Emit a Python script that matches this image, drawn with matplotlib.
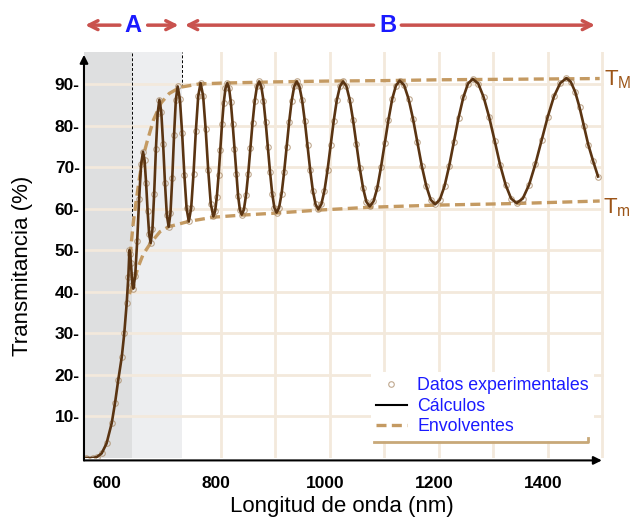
import matplotlib.pyplot as plt
from matplotlib.transforms import ScaledTranslation

plt.rcParams['font.family'] = ['Liberation Sans', 'DejaVu Sans']

# espectro de transmision (nm, %)
wl_nm = [553, 565, 572, 581, 590, 599.5, 605.5, 611.5, 618, 622.5, 627, 630,
         632, 633.4, 634.8, 636.2, 637.6,
         639, 642.6, 646.2, 649.8, 653.4,
         657, 659.8, 662.6, 665.4, 668.2,
         671, 674.2, 677.4, 680.6, 683.8,
         687, 690.4, 693.8, 697.2, 700.6,
         704, 707.3, 710.6, 713.9, 717.2,
         720.5, 724.6, 728.7, 732.8, 736.9,
         741, 745.3, 749.6, 753.9, 758.2,
         762.5, 767.2, 771.9, 776.6, 781.3,
         786, 789.2, 792.4, 795.6, 798.8, 801.9, 805.1, 808.3,
         811.5, 814.8, 818.1, 821.4, 824.8, 828.1, 831.4, 834.7,
         838, 842, 846, 850, 854, 858, 862, 866,
         870, 874, 878, 882, 886, 890, 894, 898,
         902, 906.6, 911.3, 915.9, 920.5, 925.1, 929.8, 934.4,
         939, 943.9, 948.9, 953.8, 958.8, 963.7, 968.6, 973.6,
         978.5, 984.2, 989.9, 995.6, 1001.3, 1006.9, 1012.6, 1018.3,
         1024, 1030.1, 1036.3, 1042.4, 1048.5, 1054.6, 1060.8, 1066.9,
         1073, 1079.9, 1086.8, 1093.6, 1100.5, 1107.4, 1114.3, 1121.1,
         1128, 1136.1, 1144.3, 1152.4, 1160.5, 1168.6, 1176.8, 1184.9,
         1193, 1201.6, 1210.3, 1218.9, 1227.5, 1236.1, 1244.8, 1253.4,
         1262, 1272.1, 1282.1, 1292.2, 1302.3, 1312.3, 1322.4, 1332.4,
         1342.5, 1353.9, 1365.4, 1376.8, 1388.3, 1399.7, 1411.1, 1422.6,
         1434, 1442, 1450, 1458, 1466, 1474, 1483, 1492]
t_pct = [0.0, 0.0, 0.2, 1.1, 3.5, 8.4, 13.2, 18.8, 24.4, 30.0, 37.3, 43.7,
         50.1, 49.2, 46.9, 44.0, 41.7,
         40.8, 43.9, 52.2, 62.4, 70.7,
         73.8, 71.7, 66.2, 59.4, 53.9,
         51.8, 55.1, 63.7, 74.4, 83.0,
         86.3, 83.4, 75.7, 66.3, 58.6,
         55.7, 58.9, 67.4, 77.8, 86.3,
         89.5, 86.4, 78.3, 68.2, 60.1,
         57.0, 60.2, 68.5, 78.8, 87.1,
         90.3, 87.3, 79.2, 69.3, 61.2,
         58.2, 59.4, 62.9, 68.1, 74.3, 80.4, 85.6, 89.1,
         90.3, 89.1, 85.7, 80.5, 74.5, 68.4, 63.2, 59.8,
         58.6, 59.8, 63.3, 68.5, 74.7, 80.8, 86.0, 89.5,
         90.7, 89.5, 86.1, 80.9, 74.9, 68.9, 63.7, 60.3,
         59.1, 60.3, 63.7, 68.9, 74.9, 80.9, 86.1, 89.5,
         90.7, 89.5, 86.2, 81.2, 75.3, 69.4, 64.4, 61.1,
         59.9, 61.1, 64.4, 69.4, 75.3, 81.2, 86.2, 89.5,
         90.7, 89.6, 86.3, 81.4, 75.7, 69.9, 65.0, 61.7,
         60.6, 61.8, 65.0, 70.0, 75.8, 81.5, 86.5, 89.7,
         90.9, 89.8, 86.5, 81.7, 76.0, 70.3, 65.5, 62.2,
         61.1, 62.2, 65.5, 70.4, 76.2, 82.0, 86.9, 90.2,
         91.3, 90.2, 86.9, 82.1, 76.4, 70.6, 65.8, 62.5,
         61.4, 62.5, 65.8, 70.7, 76.5, 82.2, 87.1, 90.3,
         91.5, 90.6, 88.2, 84.5, 80.0, 75.5, 71.5, 67.8]

# envolventes
wl_tmax = [633, 639, 645, 651, 657, 664, 676, 690, 705, 725, 760, 800,
           900, 1000, 1100, 1200, 1300, 1400, 1495]
t_tmax = [48.5, 56.6, 62.5, 68.0, 72.5, 76.0, 81.4, 85.5, 87.8, 89.3, 90.1, 90.3,
          90.6, 90.8, 90.9, 91.1, 91.2, 91.3, 91.4]
wl_tmin = [632, 640, 648, 657, 671, 688, 704, 741, 786, 838, 902, 978,
           1073, 1193, 1342, 1495]
t_tmin = [39.5, 42.5, 46.0, 49.0, 51.8, 54.5, 55.7, 57.0, 58.0, 58.5, 59.0, 59.7,
          60.4, 60.9, 61.3, 61.9]

# zonas A (absorcion fuerte) y B
zona_a = 636.7
zona_b = 729

y_ticks = [10, 20, 30, 40, 50, 60, 70, 80, 90]
x_ticks = [600, 800, 1000, 1200, 1400]
x_grid = [800, 900, 1000, 1100, 1200, 1300, 1400, 1500]

fig = plt.figure(figsize=(6.31, 5.24), dpi=100)
ax = fig.add_axes([0.1331, 0.126, 0.824, 0.7748])
ax.set_xlim(548.6, 1502.8)
ax.set_ylim(0, 97.8)

ax.axvspan(548.6, zona_a, color='#dedfe0', lw=0, zorder=0)
ax.axvspan(zona_a, zona_b, color='#edeef0', lw=0, zorder=0)
for yv in y_ticks:
    ax.axhline(yv, color='#f3e9dc', lw=2, zorder=1)
for xv in x_grid:
    ax.axvline(xv, color='#f3e9dc', lw=2, zorder=1)

ax.vlines([zona_a], 56.0, 97.8, colors='k', linestyles=(0, (3, 2)), lw=0.7, zorder=2)
ax.vlines([zona_b], 89.3, 97.8, colors='k', linestyles=(0, (3, 2)), lw=0.7, zorder=2)

env, = ax.plot(wl_tmax, t_tmax, ls=(0, (3, 1.6)), color='#c49a62', lw=2.4, zorder=2)
ax.plot(wl_tmin, t_tmin, ls=(0, (3, 1.6)), color='#c49a62', lw=2.4, zorder=2)
exp, = ax.plot(wl_nm, t_pct, 'o', mfc='none', mec='#a5845f', ms=4, mew=0.8,
               alpha=0.7, zorder=3)
calc, = ax.plot(wl_nm, t_pct, color='#5a3412', lw=1.9, zorder=4)

# ejes con flechas
for s in ax.spines.values():
    s.set_visible(False)
arr = dict(arrowstyle='-|>', color='k', lw=1.5, mutation_scale=12, shrinkA=0, shrinkB=0)
ax.annotate('', xy=(0, 0.993), xytext=(0, -0.006), xycoords='axes fraction', arrowprops=arr)
ax.annotate('', xy=(0.996, -0.006), xytext=(0, -0.006), xycoords='axes fraction', arrowprops=arr)

ax.set_yticks(y_ticks)
ax.set_yticklabels([f'{v}-' for v in y_ticks], fontweight='bold', fontsize=12.5)
ax.set_xticks(x_ticks)
ax.set_xticklabels([str(v) for v in x_ticks], fontweight='bold', fontsize=12.5)
ax.tick_params(axis='y', length=0, pad=3)
ax.tick_params(axis='x', length=0, pad=13)
for lab in ax.get_xticklabels():
    lab.set_transform(lab.get_transform() + ScaledTranslation(-0.05, 0, fig.dpi_scale_trans))

fig.text(0.542, 1 - 512 / 524, 'Longitud de onda (nm)', ha='center', va='baseline', fontsize=16)
fig.text(0.035, 0.492, 'Transmitancia (%)', ha='center', va='center', rotation=90, fontsize=16)

# A y B arriba
red = '#c9524e'
blue = '#1a1aff'
top = 0.952
fig.text(0.211, top, 'A', color=blue, fontsize=17, fontweight='bold', ha='center', va='center')
fig.text(0.615, top, 'B', color=blue, fontsize=17, fontweight='bold', ha='center', va='center')
harr = dict(arrowstyle='->', color=red, lw=2.5, mutation_scale=16, shrinkA=0, shrinkB=0)
for x0, x1 in [(0.190, 0.135), (0.234, 0.283), (0.592, 0.293), (0.636, 0.943)]:
    ax.annotate('', xy=(x1, top), xytext=(x0, top), xycoords='figure fraction', arrowprops=harr)

brown = '#9c5518'
fig.text(0.958, 1 - 80 / 524, r'T$_\mathregular{M}$', color=brown, fontsize=16, va='center')
fig.text(0.955, 1 - 208 / 524, r'T$_\mathregular{m}$', color=brown, fontsize=16, va='center')

leg = ax.legend([exp, calc, env], ['Datos experimentales', 'Cálculos', 'Envolventes'],
                loc='upper left', bbox_to_anchor=(0.535, 0.234), numpoints=1,
                frameon=True, facecolor='white', edgecolor='none', framealpha=1,
                fontsize=12.8, handlelength=1.7, labelspacing=0.2, borderpad=0.3,
                handletextpad=0.6, fancybox=False)
for t in leg.get_texts():
    t.set_color(blue)
leg.legend_handles[1].set_color('k')
leg.legend_handles[1].set_linewidth(1.5)
ax.plot([0.558, 0.969, 0.969], [0.039, 0.039, 0.05], transform=ax.transAxes,
        color='#c8a878', lw=2, clip_on=False, zorder=6)

fig.savefig('out.png', dpi=100)
